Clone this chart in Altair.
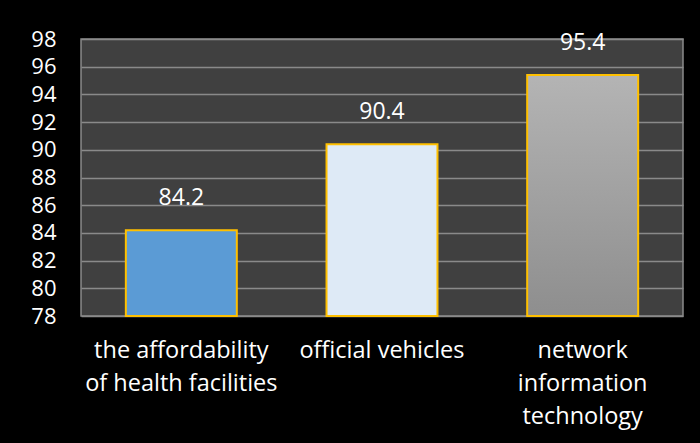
import altair as alt
import pandas as pd

categories = ["the affordability|of health facilities", "official vehicles", "network|information|technology"]
values = [84.2, 90.4, 95.4]
fills = ["#5B9BD5", "#DEEAF6", "#A6A6A6"]
y_min, y_max = 78, 98

df = pd.DataFrame({"cat": categories, "value": values, "fill": fills})

FONT = "Open Sans"

x = alt.X("cat:N", sort=None, title=None,
          scale=alt.Scale(paddingInner=0.447, paddingOuter=0.2235),
          axis=alt.Axis(labelExpr="split(datum.label, '|')", labelAngle=0,
                        labelColor="white", labelFontSize=23.5, labelFont=FONT,
                        labelLineHeight=33, labelPadding=22, ticks=False,
                        domain=False, labelBaseline="top", labelLimit=0))
y = alt.Y("value:Q", title=None,
          scale=alt.Scale(domain=[y_min, y_max], nice=False, zero=False),
          axis=alt.Axis(values=list(range(y_min, y_max + 2, 2)), labelColor="white",
                        labelFontSize=22, labelFont=FONT, labelPadding=25,
                        ticks=False, domain=False, gridColor="#8a8a8a",
                        gridWidth=1.5))
y2 = alt.Y2(datum=y_min)

base = alt.Chart(df)

bars = base.transform_filter(alt.datum.cat != categories[2]).mark_bar(
    stroke="#FFC000", strokeWidth=2).encode(
    x=x, y=y, y2=y2, color=alt.Color("fill:N", scale=None))

grad_bar = base.transform_filter(alt.datum.cat == categories[2]).mark_bar(
    stroke="#FFC000", strokeWidth=2,
    color=alt.Gradient(gradient="linear",
                       stops=[alt.GradientStop(color="#B4B4B4", offset=0),
                              alt.GradientStop(color="#8E8E8E", offset=1)],
                       x1=0, x2=0, y1=0, y2=1)).encode(x=x, y=y, y2=y2)

labels = base.mark_text(dy=-20, baseline="bottom", color="white",
                        fontSize=23, font=FONT).encode(
    x=x, y=y, text=alt.Text("value:Q", format=".1f"))

chart = alt.layer(bars, grad_bar, labels).properties(
    width=602, height=277,
    autosize=alt.AutoSizeParams(type="none"),
    padding={"left": 81, "top": 39, "right": 17, "bottom": 127},
    background="black",
).configure_view(fill="#404040", stroke="#8a8a8a", strokeWidth=1.5)

chart.save("out.html", embed_options={"renderer": "svg", "actions": False})
